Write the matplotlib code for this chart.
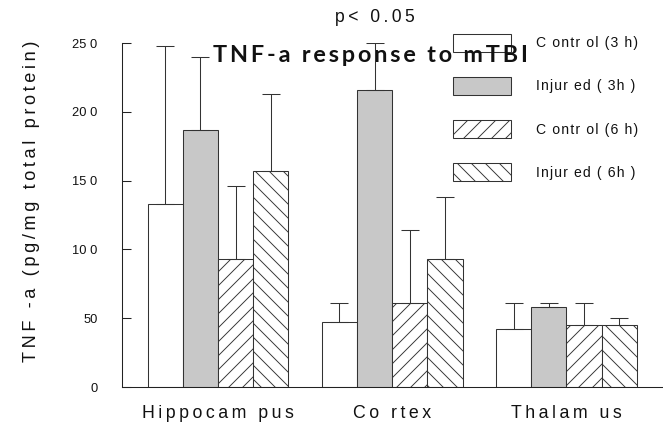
import matplotlib
matplotlib.use("Agg")
import matplotlib.pyplot as plt
from matplotlib.patches import Patch
import numpy as np

# Data: TNF-a (pg/mg total protein) by region and group
regions = ["Hippocam pus", "Co rtex", "Thalam us"]
groups = ["C ontr ol (3 h)", "Injur ed ( 3h )", "C ontr ol (6 h)", "Injur ed ( 6h )"]
control_3h = [133, 47, 42]
injured_3h = [186.5, 216, 58]
control_6h = [93, 61, 45]
injured_6h = [157, 93, 45]
control_3h_err = [115, 14, 19]
injured_3h_err = [53, 34, 3]
control_6h_err = [53, 53, 16]
injured_6h_err = [56, 45, 5]
yticks = [0, 50, 100, 150, 200, 250]
ytick_labels = ["0", "50", "10 0", "15 0", "20 0", "25 0"]
title = "TNF-a response to mTBI"
ylabel = "TNF -a (pg/mg total protein)"
note = "p< 0.05"

THIN = "\u2009"
HAIR = "\u200a"


def tracked(s, gap=THIN):
    """Widen letter spacing by putting a narrow space between characters."""
    return gap.join(s)


DPI = 84
fig = plt.figure(figsize=(663 / DPI, 427 / DPI), dpi=DPI)
ax = fig.add_axes([122 / 663, 40 / 427, 541 / 663, 344 / 427])

plt.rcParams["hatch.linewidth"] = 0.8
edge = "#333333"
styles = [
    dict(facecolor="white", hatch=None),
    dict(facecolor="#c8c8c8", hatch=None),
    dict(facecolor="white", hatch="//"),
    dict(facecolor="white", hatch="\\\\"),
]
values = [control_3h, injured_3h, control_6h, injured_6h]
errors = [control_3h_err, injured_3h_err, control_6h_err, injured_6h_err]

x = np.arange(len(regions))
width = 0.202
offsets = (np.arange(4) - 1.5) * width
for vals, errs, st, off in zip(values, errors, styles, offsets):
    ax.bar(x + off, vals, width, color=st["facecolor"], edgecolor=edge,
           linewidth=0.9, hatch=st["hatch"], zorder=2)
    ax.errorbar(x + off, vals, yerr=[np.zeros(len(errs)), errs], fmt="none",
                ecolor="#333333", elinewidth=0.9, capsize=7.7, capthick=0.9,
                zorder=7)

sans = ["Liberation Sans", "DejaVu Sans"]

ax.set_xlim(-0.551, 2.554)
ax.set_ylim(0, 250)
ax.set_yticks(yticks)
ax.set_yticklabels(ytick_labels)
ax.set_xticks(x)
ax.set_xticklabels([tracked(r) for r in regions])
for s in ["top", "right"]:
    ax.spines[s].set_visible(False)
for s in ["left", "bottom"]:
    ax.spines[s].set_linewidth(0.9)
    ax.spines[s].set_color("#222222")
ax.tick_params(axis="y", direction="in", length=7.7, width=0.9, pad=21,
               labelsize=11, colors="#222222")
ax.tick_params(axis="x", length=0, pad=15, labelsize=15.2)
for lab in ax.get_xticklabels() + ax.get_yticklabels():
    lab.set_fontfamily(sans)
    lab.set_color("#111111")

ax.set_ylabel(tracked(ylabel), fontsize=15.5, fontfamily=sans, color="#111111")
ax.yaxis.set_label_coords(-0.152, 0.54)

handles = [Patch(facecolor=st["facecolor"], edgecolor=edge, linewidth=0.9,
                 hatch=st["hatch"]) for st in styles]
fs_px = 12 * DPI / 72
leg = ax.legend(handles, [tracked(g, HAIR) for g in groups], loc="upper left",
                bbox_to_anchor=(453 / 663, 1 - 33.6 / 427),
                bbox_transform=fig.transFigure, frameon=False,
                prop={"family": sans, "size": 12},
                handlelength=58 / fs_px, handleheight=1.6,
                labelspacing=1.8, handletextpad=25 / fs_px,
                borderpad=0, borderaxespad=0)
leg.set_zorder(5)
for t in leg.get_texts():
    t.set_color("#111111")

ax.text(370 / 663, 1 - 56 / 427, tracked(title),
        transform=fig.transFigure, ha="center", va="center",
        fontsize=20, fontweight="bold", fontfamily=["Lato", "DejaVu Sans"],
        color="#111111", zorder=6, clip_on=False)
fig.text(375 / 663, 1 - 18 / 427, tracked(note), ha="center", va="center",
         fontsize=15, fontfamily=sans, color="#111111")

fig.savefig("out.png", dpi=DPI)
